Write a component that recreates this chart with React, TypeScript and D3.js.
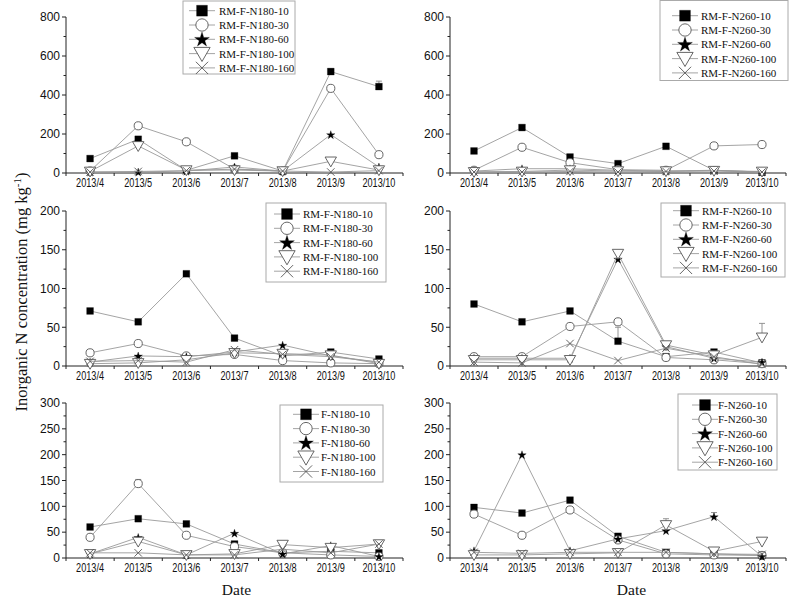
import React from "react";
import * as d3 from "d3";

const dates = ["2013/4", "2013/5", "2013/6", "2013/7", "2013/8", "2013/9", "2013/10"];
const depths = ["10", "30", "60", "100", "160"];

// Top-left: RM-F-N180 (0-800)
const rmN180Top: number[][] = [
  [74, 173, 14, 88, 10, 520, 443],
  [10, 242, 160, 20, 10, 434, 94],
  [5, 5, 10, 31, 10, 197, 31],
  [8, 139, 15, 15, 10, 60, 15],
  [5, 8, 12, 20, 10, 5, 12],
];
const rmN180TopErr: number[][] = [
  [0, 0, 0, 0, 0, 15, 28],
  [0, 0, 0, 0, 0, 8, 0],
  [0, 0, 0, 0, 0, 0, 0],
  [0, 0, 0, 0, 0, 0, 0],
  [0, 0, 0, 0, 0, 0, 0],
];
// Top-right: RM-F-N260 (0-800)
const rmN260Top: number[][] = [
  [113, 233, 82, 48, 137, 14, 5],
  [14, 132, 53, 17, 14, 139, 146],
  [10, 22, 22, 14, 10, 14, 5],
  [6, 8, 15, 10, 10, 12, 8],
  [5, 5, 8, 5, 8, 10, 5],
];
const rmN260TopErr: number[][] = [
  [0, 0, 0, 0, 0, 0, 0],
  [0, 0, 0, 0, 0, 0, 8],
  [0, 0, 0, 0, 0, 0, 0],
  [0, 0, 0, 0, 0, 0, 0],
  [0, 0, 0, 0, 0, 0, 0],
];
// Middle-left: RM-F-N180 (0-200)
const rmN180Mid: number[][] = [
  [71, 57, 119, 36, 13, 18, 9],
  [17, 29, 13, 15, 7, 4, 3],
  [5, 13, 12, 18, 27, 13, 5],
  [3, 4, 8, 17, 16, 14, 3],
  [6, 7, 5, 21, 15, 12, 5],
];
const rmN180MidErr: number[][] = [
  [0, 0, 0, 0, 0, 0, 0],
  [0, 0, 0, 0, 0, 0, 0],
  [0, 0, 0, 0, 0, 0, 0],
  [0, 0, 0, 0, 0, 0, 0],
  [0, 0, 0, 0, 0, 0, 0],
];
// Middle-right: RM-F-N260 (0-200)
const rmN260Mid: number[][] = [
  [80, 57, 71, 32, 12, 18, 4],
  [12, 12, 51, 57, 11, 8, 3],
  [10, 10, 10, 138, 25, 10, 5],
  [8, 8, 8, 145, 27, 14, 37],
  [5, 4, 29, 7, 23, 12, 2],
];
const rmN260MidErr: number[][] = [
  [0, 0, 0, 18, 0, 0, 0],
  [0, 0, 0, 0, 0, 0, 0],
  [0, 0, 0, 0, 0, 0, 0],
  [0, 0, 0, 0, 0, 0, 18],
  [0, 0, 0, 0, 0, 0, 0],
];
// Bottom-left: F-N180 (0-300)
const fN180: number[][] = [
  [60, 76, 66, 27, 10, 13, 10],
  [40, 144, 44, 22, 10, 6, 3],
  [8, 40, 6, 48, 8, 24, 3],
  [8, 32, 6, 8, 26, 20, 27],
  [10, 10, 6, 6, 17, 10, 27],
];
const fN180Err: number[][] = [
  [0, 0, 0, 0, 0, 0, 0],
  [0, 8, 0, 0, 0, 0, 0],
  [0, 0, 0, 0, 0, 0, 0],
  [0, 0, 0, 0, 0, 0, 0],
  [0, 0, 0, 0, 0, 0, 0],
];
// Bottom-right: F-N260 (0-300)
const fN260: number[][] = [
  [98, 87, 112, 42, 11, 8, 5],
  [85, 44, 93, 35, 8, 6, 5],
  [14, 200, 14, 37, 53, 80, 3],
  [6, 6, 8, 10, 64, 13, 32],
  [11, 9, 11, 11, 11, 8, 7],
];
const fN260Err: number[][] = [
  [0, 0, 0, 0, 0, 0, 0],
  [0, 0, 0, 0, 0, 0, 0],
  [0, 0, 0, 0, 0, 8, 0],
  [0, 0, 0, 0, 12, 0, 5],
  [0, 0, 0, 0, 0, 0, 0],
];

const yTitle = "Inorganic N concentration (mg kg";
const xTitle = "Date";

type Cfg = {
  data: number[][];
  err: number[][];
  prefix: string;
  x0: number;
  x1: number;
  yTop: number;
  yBot: number;
  yMax: number;
  major: number;
  minor: number;
  lg: { x: number; y: number; w: number; h: number; mx: number; tx: number; r0: number };
};

const panels: Cfg[] = [
  { data: rmN180Top, err: rmN180TopErr, prefix: "RM-F-N180", x0: 66, x1: 403, yTop: 17, yBot: 173, yMax: 800, major: 200, minor: 100,
    lg: { x: 183, y: 1, w: 112, h: 73, mx: 202, tx: 219, r0: 10.7 } },
  { data: rmN260Top, err: rmN260TopErr, prefix: "RM-F-N260", x0: 450, x1: 786, yTop: 17, yBot: 173, yMax: 800, major: 200, minor: 100,
    lg: { x: 660, y: 0.5, w: 128, h: 80, mx: 685, tx: 701, r0: 15.7 } },
  { data: rmN180Mid, err: rmN180MidErr, prefix: "RM-F-N180", x0: 66, x1: 403, yTop: 211, yBot: 366, yMax: 200, major: 50, minor: 25,
    lg: { x: 266, y: 203, w: 120, h: 79, mx: 287, tx: 303, r0: 214 } },
  { data: rmN260Mid, err: rmN260MidErr, prefix: "RM-F-N260", x0: 450, x1: 786, yTop: 211, yBot: 366, yMax: 200, major: 50, minor: 25,
    lg: { x: 661, y: 203, w: 124, h: 74, mx: 686, tx: 702, r0: 210.7 } },
  { data: fN180, err: fN180Err, prefix: "F-N180", x0: 66, x1: 403, yTop: 403, yBot: 558, yMax: 300, major: 50, minor: 25,
    lg: { x: 280, y: 405, w: 103, h: 77, mx: 306, tx: 321, r0: 414.3 } },
  { data: fN260, err: fN260Err, prefix: "F-N260", x0: 450, x1: 786, yTop: 403, yBot: 558, yMax: 300, major: 50, minor: 25,
    lg: { x: 678, y: 394, w: 99, h: 76, mx: 705, tx: 718, r0: 405 } },
];

const symbolXShape = {
  draw(ctx: any, size: number) {
    const r = Math.sqrt(size) / 2;
    ctx.moveTo(-r, -r);
    ctx.lineTo(r, r);
    ctx.moveTo(r, -r);
    ctx.lineTo(-r, r);
  },
};

const symTypes: any[] = [d3.symbolSquare, d3.symbolCircle, d3.symbolStar, d3.symbolTriangle, symbolXShape];
const plotSizes = [46, 52, 22, 56, 56];
const legendSizes = [118, 120, 68, 115, 150];

function Marker({ i, x, y, legend }: { i: number; x: number; y: number; legend?: boolean }) {
  const size = (legend ? legendSizes : plotSizes)[i];
  const d = d3.symbol().type(symTypes[i]).size(size)() || "";
  const filled = i === 0 || i === 2;
  const rot = i === 3 ? " rotate(180)" : "";
  const dy = i === 3 ? (legend ? -1.5 : -1) : i === 2 ? 0.5 : 0;
  return (
    <path
      d={d}
      transform={`translate(${x},${y + dy})${rot}`}
      fill={filled ? "#000" : i === 4 ? "none" : "#fff"}
      stroke={filled ? "#000" : "#555"}
      strokeWidth={filled ? 0.3 : 0.9}
    />
  );
}

function Panel({ cfg }: { cfg: Cfg }) {
  const x = d3.scalePoint<string>().domain(dates).range([cfg.x0, cfg.x1]).padding(0.5);
  const y = d3.scaleLinear().domain([0, cfg.yMax]).range([cfg.yBot, cfg.yTop]);
  const step = x.step();
  const line = d3
    .line<number>()
    .x((_, i) => x(dates[i]) as number)
    .y((d) => y(d));
  const majors = d3.range(0, cfg.yMax + 0.001, cfg.major);
  const minors = d3.range(0, cfg.yMax + 0.001, cfg.minor).filter((v) => v % cfg.major !== 0);
  const bounds = d3.range(0, dates.length + 1).map((k) => cfg.x0 + k * step);
  const lg = cfg.lg;
  return (
    <g>
      <line x1={cfg.x0} x2={cfg.x0} y1={cfg.yTop} y2={cfg.yBot} stroke="#222" strokeWidth={1} />
      <line x1={cfg.x0} x2={cfg.x1} y1={cfg.yBot} y2={cfg.yBot} stroke="#222" strokeWidth={1} />
      {majors.map((v) => (
        <g key={"M" + v}>
          <line x1={cfg.x0 - 4} x2={cfg.x0} y1={y(v)} y2={y(v)} stroke="#222" />
          <text x={cfg.x0 - 6} y={y(v)} dy="0.36em" textAnchor="end" fontFamily="Liberation Sans, Arial, sans-serif" fontSize={12} fill="#111">
            {v}
          </text>
        </g>
      ))}
      {minors.map((v) => (
        <line key={"m" + v} x1={cfg.x0 - 2.5} x2={cfg.x0} y1={y(v)} y2={y(v)} stroke="#222" />
      ))}
      {bounds.map((bx, k) => (
        <line key={"b" + k} x1={bx} x2={bx} y1={cfg.yBot} y2={cfg.yBot + 3} stroke="#222" />
      ))}
      {dates.map((dt) => (
        <text
          key={dt}
          x={x(dt)}
          y={cfg.yBot + 13.5}
          textAnchor="middle"
          fontFamily="Liberation Sans, Arial, sans-serif"
          fontSize={12}
          fill="#111"
          textLength={dt.length > 6 ? 33 : 28}
          lengthAdjust="spacingAndGlyphs"
        >
          {dt}
        </text>
      ))}
      {cfg.data.map((vals, si) => (
        <g key={"s" + si}>
          <path d={line(vals) || ""} fill="none" stroke="#9a9a9a" strokeWidth={0.9} />
          {vals.map((v, j) =>
            cfg.err[si][j] > 0 ? (
              <g key={"e" + j}>
                <line x1={x(dates[j])} x2={x(dates[j])} y1={y(v)} y2={y(v + cfg.err[si][j])} stroke="#888" strokeWidth={0.9} />
                <line x1={(x(dates[j]) as number) - 3} x2={(x(dates[j]) as number) + 3} y1={y(v + cfg.err[si][j])} y2={y(v + cfg.err[si][j])} stroke="#888" strokeWidth={0.9} />
              </g>
            ) : null
          )}
          {vals.map((v, j) => (
            <Marker key={"p" + j} i={si} x={x(dates[j]) as number} y={y(v)} />
          ))}
        </g>
      ))}
      <rect x={lg.x} y={lg.y} width={lg.w} height={lg.h} fill="#fff" stroke="#aaa" strokeWidth={1} />
      {depths.map((dp, i) => {
        const ry = lg.r0 + i * 14.3;
        return (
          <g key={"l" + dp}>
            <line x1={lg.mx - 13} x2={lg.mx + 13} y1={ry} y2={ry} stroke="#9a9a9a" strokeWidth={0.9} />
            <Marker i={i} x={lg.mx} y={ry} legend />
            <text x={lg.tx} y={ry + 4} fontFamily="Liberation Serif, Times New Roman, serif" fontSize={11} fill="#111">
              {cfg.prefix + "-" + dp}
            </text>
          </g>
        );
      })}
    </g>
  );
}

export default function App() {
  return (
    <svg width={791} height={602} style={{ position: "absolute", left: 0, top: 0, background: "#fff" }}>
      <rect width={791} height={602} fill="#fff" />
      {panels.map((p, k) => (
        <Panel key={k} cfg={p} />
      ))}
      <text
        transform="translate(26.5,292) rotate(-90)"
        textAnchor="middle"
        fontFamily="Liberation Serif, Times New Roman, serif"
        fontSize={16.5}
        fill="#111"
      >
        {yTitle}
        <tspan fontSize={11} dy={-6}>-1</tspan>
        <tspan dy={6}>)</tspan>
      </text>
      <text x={236.5} y={595} textAnchor="middle" fontFamily="Liberation Serif, Times New Roman, serif" fontSize={15.5} fill="#111">
        {xTitle}
      </text>
      <text x={631.5} y={595} textAnchor="middle" fontFamily="Liberation Serif, Times New Roman, serif" fontSize={15.5} fill="#111">
        {xTitle}
      </text>
    </svg>
  );
}
